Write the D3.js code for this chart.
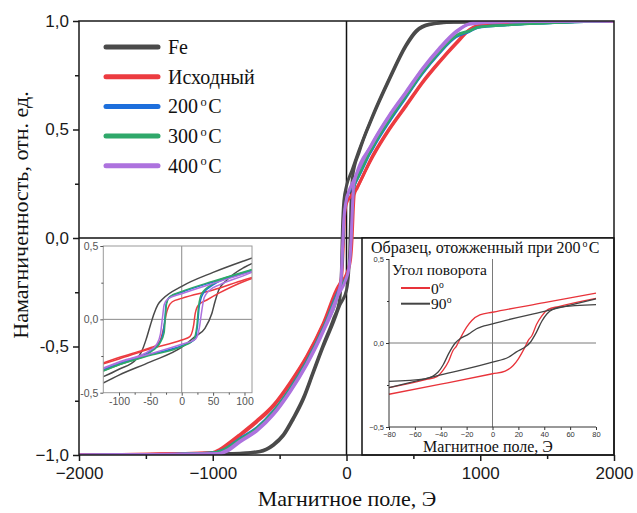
<!DOCTYPE html>
<html>
<head>
<meta charset="utf-8">
<script src="https://cdn.jsdelivr.net/npm/d3@7"></script>
<style>
  body { margin: 0; background: #fff; }
  text { font-family: "Liberation Sans", Arial, sans-serif; }
  .serif { font-family: "Liberation Serif", "Times New Roman", serif; }
</style>
</head>
<body>
<svg id="chart" width="637" height="513"></svg>
<script>
// ---- main loops: [field, magnetisation], "down" = descending field branch
var feDown = [[2000,1],[1200,0.998],[800,0.995],[620,0.986],[521,0.956],[446,0.892],[321,0.737],[197,0.567],[97,0.41],[40,0.31],[0,0.24],[-20,0.17],[-30,0.05],[-38,-0.15],[-50,-0.28],[-99,-0.375],[-173,-0.49],[-248,-0.613],[-323,-0.736],[-398,-0.828],[-472,-0.905],[-547,-0.951],[-647,-0.982],[-796,-0.992],[-1200,-0.996],[-2000,-1]];
var feUp = [[-2000,-1],[-1200,-0.997],[-796,-0.993],[-647,-0.985],[-547,-0.956],[-472,-0.912],[-398,-0.836],[-323,-0.745],[-248,-0.622],[-173,-0.5],[-99,-0.39],[-50,-0.31],[0,-0.24],[15,-0.17],[25,-0.05],[33,0.15],[45,0.28],[97,0.4],[197,0.56],[321,0.73],[446,0.885],[521,0.95],[620,0.983],[800,0.994],[1200,0.998],[2000,1]];
var origDown = [[2000,1],[1500,0.997],[1200,0.992],[970,0.977],[920,0.961],[820,0.9],[695,0.814],[570,0.721],[446,0.613],[321,0.505],[197,0.381],[72,0.226],[30,0.19],[0,0.16],[-15,0.1],[-25,-0.05],[-35,-0.17],[-50,-0.213],[-173,-0.398],[-298,-0.55],[-422,-0.672],[-547,-0.776],[-671,-0.848],[-796,-0.91],[-900,-0.958],[-950,-0.978],[-1000,-0.99],[-1500,-0.996],[-2000,-1]];
var origUp = [[-2000,-1],[-1500,-0.996],[-1000,-0.988],[-950,-0.975],[-900,-0.954],[-796,-0.905],[-671,-0.842],[-547,-0.77],[-422,-0.666],[-298,-0.545],[-173,-0.392],[-60,-0.22],[-20,-0.19],[10,-0.15],[30,-0.1],[42,0],[50,0.12],[58,0.2],[80,0.23],[197,0.375],[321,0.5],[446,0.608],[570,0.716],[695,0.81],[820,0.895],[920,0.958],[980,0.976],[1200,0.99],[1500,0.996],[2000,1]];
var t200Down = [[2000,1],[1500,0.99],[1200,0.982],[980,0.972],[920,0.955],[820,0.93],[695,0.855],[570,0.762],[446,0.652],[321,0.54],[197,0.415],[60,0.245],[20,0.21],[0,0.175],[-18,0.1],[-26,-0.05],[-36,-0.18],[-55,-0.235],[-173,-0.415],[-298,-0.57],[-422,-0.695],[-547,-0.8],[-671,-0.877],[-796,-0.928],[-921,-0.978],[-1000,-0.99],[-1500,-0.997],[-2000,-1]];
var t200Up = [[-2000,-1],[-1500,-0.997],[-1000,-0.988],[-921,-0.974],[-796,-0.922],[-671,-0.872],[-547,-0.795],[-422,-0.69],[-298,-0.565],[-173,-0.41],[-60,-0.24],[-20,-0.2],[10,-0.16],[28,-0.08],[38,0.05],[46,0.17],[60,0.235],[197,0.41],[321,0.535],[446,0.647],[570,0.757],[695,0.85],[820,0.925],[920,0.95],[980,0.968],[1200,0.98],[1500,0.99],[2000,1]];
var t300Down = [[2000,1],[1500,0.99],[1200,0.982],[980,0.972],[920,0.957],[820,0.935],[695,0.86],[570,0.767],[446,0.657],[321,0.547],[197,0.422],[60,0.25],[20,0.215],[0,0.18],[-18,0.1],[-27,-0.05],[-38,-0.18],[-55,-0.24],[-173,-0.418],[-298,-0.573],[-422,-0.698],[-547,-0.803],[-671,-0.88],[-796,-0.93],[-921,-0.979],[-1000,-0.99],[-1500,-0.997],[-2000,-1]];
var t300Up = [[-2000,-1],[-1500,-0.997],[-1000,-0.988],[-921,-0.975],[-796,-0.925],[-671,-0.875],[-547,-0.798],[-422,-0.693],[-298,-0.568],[-173,-0.413],[-60,-0.245],[-20,-0.2],[10,-0.16],[28,-0.08],[39,0.05],[47,0.17],[60,0.24],[197,0.417],[321,0.542],[446,0.652],[570,0.762],[695,0.855],[820,0.93],[920,0.952],[980,0.969],[1200,0.98],[1500,0.99],[2000,1]];
var t400Down = [[2000,1],[1200,0.997],[950,0.993],[920,0.988],[820,0.953],[695,0.876],[570,0.783],[446,0.675],[321,0.567],[197,0.443],[47,0.257],[20,0.22],[0,0.18],[-20,0.08],[-30,-0.05],[-42,-0.2],[-60,-0.25],[-173,-0.43],[-298,-0.585],[-422,-0.71],[-547,-0.815],[-671,-0.89],[-796,-0.94],[-900,-0.985],[-960,-0.995],[-2000,-1]];
var t400Up = [[-2000,-1],[-960,-0.993],[-900,-0.98],[-796,-0.935],[-671,-0.885],[-547,-0.81],[-422,-0.705],[-298,-0.58],[-173,-0.425],[-60,-0.26],[-10,-0.2],[20,-0.13],[35,0],[45,0.15],[55,0.25],[197,0.438],[321,0.562],[446,0.67],[570,0.778],[695,0.87],[820,0.948],[920,0.985],[1200,0.996],[2000,1]];

// ---- left inset (low-field zoom)
var zFeDown = [[120,0.43],[100,0.40],[50,0.32],[0,0.225],[-30,0.14],[-38,0.1],[-44,0.04],[-50,-0.04],[-57,-0.14],[-64,-0.22],[-72,-0.27],[-100,-0.34],[-130,-0.40]];
var zFeUp = [[-130,-0.445],[-100,-0.38],[-50,-0.29],[0,-0.19],[21,-0.118],[37,-0.061],[48,0.04],[53,0.12],[59,0.2],[72,0.268],[100,0.355],[120,0.395]];
var zOrigDown = [[120,0.295],[100,0.27],[50,0.2],[0,0.143],[-15,0.12],[-21,0.086],[-25,0.03],[-27,-0.02],[-30,-0.08],[-35,-0.15],[-42,-0.18],[-48,-0.19],[-62,-0.21],[-100,-0.26],[-130,-0.305]];
var zOrigUp = [[-130,-0.31],[-100,-0.27],[-50,-0.2],[0,-0.141],[13,-0.118],[17,-0.08],[19,-0.04],[21.5,0.04],[26.7,0.098],[40,0.132],[60,0.18],[100,0.26],[120,0.29]];
var z200Down = [[120,0.345],[100,0.32],[50,0.255],[0,0.185],[-20,0.15],[-25,0.1],[-27,0.0],[-30,-0.1],[-36,-0.165],[-46,-0.205],[-100,-0.30],[-130,-0.35]];
var z200Up = [[-130,-0.355],[-100,-0.305],[-50,-0.24],[0,-0.18],[20,-0.14],[25,-0.05],[28,0.09],[34,0.175],[52,0.24],[100,0.315],[120,0.345]];
var z300Down = [[120,0.35],[100,0.325],[50,0.26],[0,0.19],[-18.7,0.155],[-24,0.11],[-26,0.02],[-28,-0.09],[-35,-0.164],[-45,-0.209],[-100,-0.31],[-130,-0.36]];
var z300Up = [[-130,-0.36],[-100,-0.31],[-50,-0.245],[0,-0.186],[18.7,-0.141],[24,-0.05],[26.7,0.086],[32,0.177],[51,0.245],[100,0.32],[120,0.35]];
var z400Down = [[120,0.335],[100,0.31],[50,0.245],[0,0.175],[-22,0.14],[-28,0.1],[-31,0.0],[-34,-0.1],[-40,-0.17],[-50,-0.21],[-100,-0.29],[-130,-0.34]];
var z400Up = [[-130,-0.345],[-100,-0.295],[-50,-0.235],[0,-0.17],[22,-0.135],[28,-0.06],[32,0.06],[36,0.15],[45,0.2],[60,0.235],[100,0.3],[120,0.335]];

// ---- right inset (200 C sample, rotation angle)
var rot0Down = [[80,0.297],[40,0.24],[0,0.183],[-9.8,0.167],[-16,0.134],[-20,0.094],[-25,0.026],[-28,-0.02],[-30.4,-0.043],[-34,-0.11],[-38,-0.16],[-43,-0.2],[-51,-0.217],[-80,-0.266]];
var rot0Up = [[-80,-0.305],[-40,-0.245],[0,-0.183],[9.8,-0.167],[16,-0.134],[20,-0.094],[25,-0.026],[28,0.02],[30.4,0.043],[34,0.11],[38,0.16],[43,0.2],[51,0.217],[80,0.266]];
var rot90Down = [[80,0.262],[40,0.188],[0,0.114],[-12.3,0.085],[-18.5,0.053],[-26,0.02],[-28.8,0],[-34,-0.065],[-38,-0.128],[-42,-0.173],[-52,-0.213],[-80,-0.228]];
var rot90Up = [[-80,-0.266],[-40,-0.19],[0,-0.114],[12.3,-0.085],[18.5,-0.053],[26,-0.02],[28.8,0],[34,0.065],[38,0.128],[42,0.173],[52,0.213],[80,0.228]];

var seriesNames = ["Fe", "Исходный", "200", "300", "400"];
var seriesColors = ["#4a4a4a", "#ec3b40", "#1d6fdc", "#2fa86a", "#ad72de"];
var seriesWidths = [3, 3, 2, 2, 3];
var mainLoops = [[feDown, feUp], [origDown, origUp], [t200Down, t200Up], [t300Down, t300Up], [t400Down, t400Up]];
var insetLoops = [[zFeDown, zFeUp], [zOrigDown, zOrigUp], [z200Down, z200Up], [z300Down, z300Up], [z400Down, z400Up]];

var rotNames = ["0", "90"];
var rotColors = ["#e8333a", "#444444"];
var rotLoops = [[rot0Down, rot0Up], [rot90Down, rot90Up]];

var xTicks = [-2000, -1000, 0, 1000, 2000];
var xTickLabels = ["\u22122000", "\u22121000", "0", "1000", "2000"];
var xMinor = [-1500, -500, 500, 1500];
var yTicks = [-1, -0.5, 0, 0.5, 1];
var yTickLabels = ["\u22121,0", "-0,5", "0,0", "0,5", "1,0"];
var yMinor = [-0.75, -0.25, 0.25, 0.75];

var zxTicks = [-100, -50, 0, 50, 100];
var zxTickLabels = ["-100", "-50", "0", "50", "100"];
var zxMinor = [-75, -25, 25, 75];
var zyTicks = [-0.5, 0, 0.5];
var zyTickLabels = ["-0,5", "0,0", "0,5"];

var rxTicks = [-80, -60, -40, -20, 0, 20, 40, 60, 80];
var rxTickLabels = ["\u221280", "\u221260", "\u221240", "\u221220", "0", "20", "40", "60", "80"];
var ryTicks = [-0.5, 0, 0.5];
var ryTickLabels = ["\u22120,5", "0,0", "0,5"];

(function () {
    var svg = d3.select("#chart");
    svg.append("rect").attr("width", 637).attr("height", 513).attr("fill", "#fff");

    function byField(pts) {
        return pts.slice().sort(function (a, b) { return a[0] - b[0]; });
    }

    // main scales
    var x = d3.scaleLinear().domain([-2000, 2000]).range([79, 614]);
    var y = d3.scaleLinear().domain([-1, 1]).range([455, 21]);

    svg.append("clipPath").attr("id", "mainClip")
        .append("rect").attr("x", 79).attr("y", 21).attr("width", 535).attr("height", 434);

    // zero lines
    svg.append("line").attr("x1", x(0)).attr("x2", x(0)).attr("y1", y(1)).attr("y2", y(-1))
        .attr("stroke", "#111").attr("stroke-width", 1.5);
    svg.append("line").attr("x1", x(-2000)).attr("x2", x(2000)).attr("y1", y(0)).attr("y2", y(0))
        .attr("stroke", "#111").attr("stroke-width", 1.5);

    var mainLine = d3.line()
        .x(function (d) { return x(d[0]); })
        .y(function (d) { return y(d[1]); })
        .curve(d3.curveMonotoneX);

    var gMain = svg.append("g").attr("clip-path", "url(#mainClip)");
    mainLoops.forEach(function (loop, i) {
        loop.forEach(function (branch) {
            gMain.append("path")
                .attr("d", mainLine(byField(branch)))
                .attr("fill", "none")
                .attr("stroke", seriesColors[i])
                .attr("stroke-width", seriesWidths[i])
                .attr("stroke-linejoin", "round");
        });
    });

    // ---- left inset
    var zx = d3.scaleLinear().domain([-125, 112]).range([103.3, 252]);
    var zy = d3.scaleLinear().domain([-0.5, 0.5]).range([392.7, 246]);
    var gz = svg.append("g");
    gz.append("rect").attr("x", zx(-125)).attr("y", zy(0.5))
        .attr("width", zx(112) - zx(-125)).attr("height", zy(-0.5) - zy(0.5))
        .attr("fill", "#fff");
    gz.append("clipPath").attr("id", "zClip")
        .append("rect").attr("x", zx(-125)).attr("y", zy(0.5))
        .attr("width", zx(112) - zx(-125)).attr("height", zy(-0.5) - zy(0.5));
    gz.append("line").attr("x1", zx(0)).attr("x2", zx(0)).attr("y1", zy(0.5)).attr("y2", zy(-0.5))
        .attr("stroke", "#8a8a8a").attr("stroke-width", 1);
    gz.append("line").attr("x1", zx(-125)).attr("x2", zx(112)).attr("y1", zy(0)).attr("y2", zy(0))
        .attr("stroke", "#8a8a8a").attr("stroke-width", 1);

    var zLine = d3.line()
        .x(function (d) { return zx(d[0]); })
        .y(function (d) { return zy(d[1]); })
        .curve(d3.curveMonotoneX);
    var gzc = gz.append("g").attr("clip-path", "url(#zClip)");
    insetLoops.forEach(function (loop, i) {
        loop.forEach(function (branch) {
            gzc.append("path")
                .attr("d", zLine(byField(branch)))
                .attr("fill", "none")
                .attr("stroke", seriesColors[i])
                .attr("stroke-width", 1.5);
        });
    });
    gz.append("rect").attr("x", zx(-125)).attr("y", zy(0.5))
        .attr("width", zx(112) - zx(-125)).attr("height", zy(-0.5) - zy(0.5))
        .attr("fill", "none").attr("stroke", "#9a9a9a").attr("stroke-width", 1);

    function styleAxis(g, color, size) {
        g.select(".domain").remove();
        g.selectAll(".tick line").attr("stroke", color);
        g.selectAll(".tick text").attr("fill", color).attr("font-size", size);
    }

    gz.append("g").attr("transform", "translate(0," + zy(-0.5) + ")")
        .call(d3.axisBottom(zx).tickValues(zxTicks).tickSize(3).tickPadding(2)
            .tickFormat(function (d, i) { return zxTickLabels[i]; }))
        .call(styleAxis, "#555", 10.5);
    gz.append("g").attr("transform", "translate(0," + zy(-0.5) + ")")
        .call(d3.axisBottom(zx).tickValues(zxMinor).tickSize(2).tickFormat(""))
        .call(styleAxis, "#555", 10.5);
    gz.append("g").attr("transform", "translate(" + zx(-125) + ",0)")
        .call(d3.axisLeft(zy).tickValues(zyTicks).tickSize(3).tickPadding(2)
            .tickFormat(function (d, i) { return zyTickLabels[i]; }))
        .call(styleAxis, "#555", 10.5);
    gz.append("g").attr("transform", "translate(" + zx(-125) + ",0)")
        .call(d3.axisLeft(zy).tickValues([-0.25, 0.25]).tickSize(2).tickFormat(""))
        .call(styleAxis, "#555", 10.5);

    // ---- right inset
    var gr = svg.append("g");
    gr.append("rect").attr("x", 362).attr("y", y(0)).attr("width", 614 - 362).attr("height", y(-1) - y(0))
        .attr("fill", "#fff").attr("stroke", "#111").attr("stroke-width", 1.5);
    var rx = d3.scaleLinear().domain([-80, 80]).range([389, 596]);
    var ry = d3.scaleLinear().domain([-0.5, 0.5]).range([427, 259]);

    gr.append("line").attr("x1", rx(0)).attr("x2", rx(0)).attr("y1", ry(0.5)).attr("y2", ry(-0.5))
        .attr("stroke", "#7a7a7a").attr("stroke-width", 1);
    gr.append("line").attr("x1", rx(-80)).attr("x2", rx(80)).attr("y1", ry(0)).attr("y2", ry(0))
        .attr("stroke", "#7a7a7a").attr("stroke-width", 1);

    var rLine = d3.line()
        .x(function (d) { return rx(d[0]); })
        .y(function (d) { return ry(d[1]); })
        .curve(d3.curveMonotoneX);
    rotLoops.forEach(function (loop, i) {
        loop.forEach(function (branch) {
            gr.append("path")
                .attr("d", rLine(byField(branch)))
                .attr("fill", "none")
                .attr("stroke", rotColors[i])
                .attr("stroke-width", 1.3);
        });
    });

    gr.append("g").attr("transform", "translate(0," + ry(-0.5) + ")")
        .call(d3.axisBottom(rx).tickValues(rxTicks).tickSize(3).tickPadding(2)
            .tickFormat(function (d, i) { return rxTickLabels[i]; }))
        .call(styleAxis, "#333", 7.5);
    gr.append("g").attr("transform", "translate(" + rx(-80) + ",0)")
        .call(d3.axisLeft(ry).tickValues(ryTicks).tickSize(3).tickPadding(2)
            .tickFormat(function (d, i) { return ryTickLabels[i]; }))
        .call(styleAxis, "#333", 7.5);
    gr.append("g").attr("transform", "translate(" + rx(-80) + ",0)")
        .call(d3.axisLeft(ry).tickValues([-0.25, 0.25]).tickSize(2).tickFormat(""))
        .call(styleAxis, "#333", 7.5);
    gr.append("line").attr("x1", rx(-80)).attr("x2", rx(80)).attr("y1", ry(-0.5)).attr("y2", ry(-0.5))
        .attr("stroke", "#333").attr("stroke-width", 1);
    gr.append("line").attr("x1", rx(-80)).attr("x2", rx(-80)).attr("y1", ry(0.5)).attr("y2", ry(-0.5))
        .attr("stroke", "#333").attr("stroke-width", 1);

    function degreeText(g, xPos, yPos, base, unit, size, gap) {
        var t = g.append("text").attr("class", "serif").attr("x", xPos).attr("y", yPos)
            .attr("font-size", size).attr("fill", "#111");
        t.append("tspan").text(base);
        t.append("tspan").attr("dx", size * gap).attr("dy", -size * 0.38)
            .attr("font-size", size * 0.62).text("o");
        if (unit) {
            t.append("tspan").attr("dx", size * 0.08).attr("dy", size * 0.38).text(unit);
        }
        return t;
    }

    degreeText(gr, 371, 253, "Образец, отожженный при 200", "C", 16, 0.12);
    gr.append("text").attr("class", "serif").attr("x", 392).attr("y", 275)
        .attr("font-size", 15.5).attr("fill", "#111").text("Угол поворота");
    rotNames.forEach(function (name, i) {
        var yy = 288 + i * 15.7;
        gr.append("line").attr("x1", 401).attr("x2", 430).attr("y1", yy).attr("y2", yy)
            .attr("stroke", rotColors[i]).attr("stroke-width", 2);
        degreeText(gr, 431, yy + 5.5, name, "", 15.5, 0.02);
    });
    gr.append("text").attr("class", "serif").attr("x", 488).attr("y", 452)
        .attr("text-anchor", "middle").attr("font-size", 16).attr("fill", "#111")
        .text("Магнитное поле, Э");

    // ---- main frame and axes
    svg.append("rect").attr("x", 79).attr("y", 21).attr("width", 535).attr("height", 434)
        .attr("fill", "none").attr("stroke", "#1a1a1a").attr("stroke-width", 1.5);

    svg.append("g").attr("transform", "translate(0,455)")
        .call(d3.axisBottom(x).tickValues(xTicks).tickSize(6).tickPadding(6)
            .tickFormat(function (d, i) { return xTickLabels[i]; }))
        .call(styleAxis, "#1a1a1a", 17)
        .call(function (g) { g.selectAll(".tick line").attr("stroke-width", 1.5); });
    svg.append("g").attr("transform", "translate(0,455)")
        .call(d3.axisBottom(x).tickValues(xMinor).tickSize(4).tickFormat(""))
        .call(styleAxis, "#1a1a1a", 17)
        .call(function (g) { g.selectAll(".tick line").attr("stroke-width", 1.5); });
    svg.append("g").attr("transform", "translate(79,0)")
        .call(d3.axisLeft(y).tickValues(yTicks).tickSize(6).tickPadding(4)
            .tickFormat(function (d, i) { return yTickLabels[i]; }))
        .call(styleAxis, "#1a1a1a", 17)
        .call(function (g) { g.selectAll(".tick line").attr("stroke-width", 1.5); });
    svg.append("g").attr("transform", "translate(79,0)")
        .call(d3.axisLeft(y).tickValues(yMinor).tickSize(4).tickFormat(""))
        .call(styleAxis, "#1a1a1a", 17)
        .call(function (g) { g.selectAll(".tick line").attr("stroke-width", 1.5); });

    svg.append("text").attr("class", "serif")
        .attr("transform", "translate(28,215) rotate(-90)")
        .attr("text-anchor", "middle").attr("font-size", 22).attr("fill", "#111")
        .text("Намагниченность, отн. ед.");
    svg.append("text").attr("class", "serif")
        .attr("x", 347).attr("y", 506)
        .attr("text-anchor", "middle").attr("font-size", 22).attr("fill", "#111")
        .text("Магнитное поле, Э");

    // ---- legend
    var legend = svg.append("g");
    seriesNames.forEach(function (name, i) {
        var yy = 47 + i * 29.7;
        legend.append("line").attr("x1", 106).attr("x2", 158).attr("y1", yy).attr("y2", yy)
            .attr("stroke", seriesColors[i]).attr("stroke-width", 5).attr("stroke-linecap", "round");
        if (i < 2) {
            legend.append("text").attr("class", "serif").attr("x", 168).attr("y", yy + 7)
                .attr("font-size", 20).attr("fill", "#111").text(name);
        } else {
            degreeText(legend, 168, yy + 7, name, "C", 20, 0.12);
        }
    });
})();
</script>
</body>
</html>
